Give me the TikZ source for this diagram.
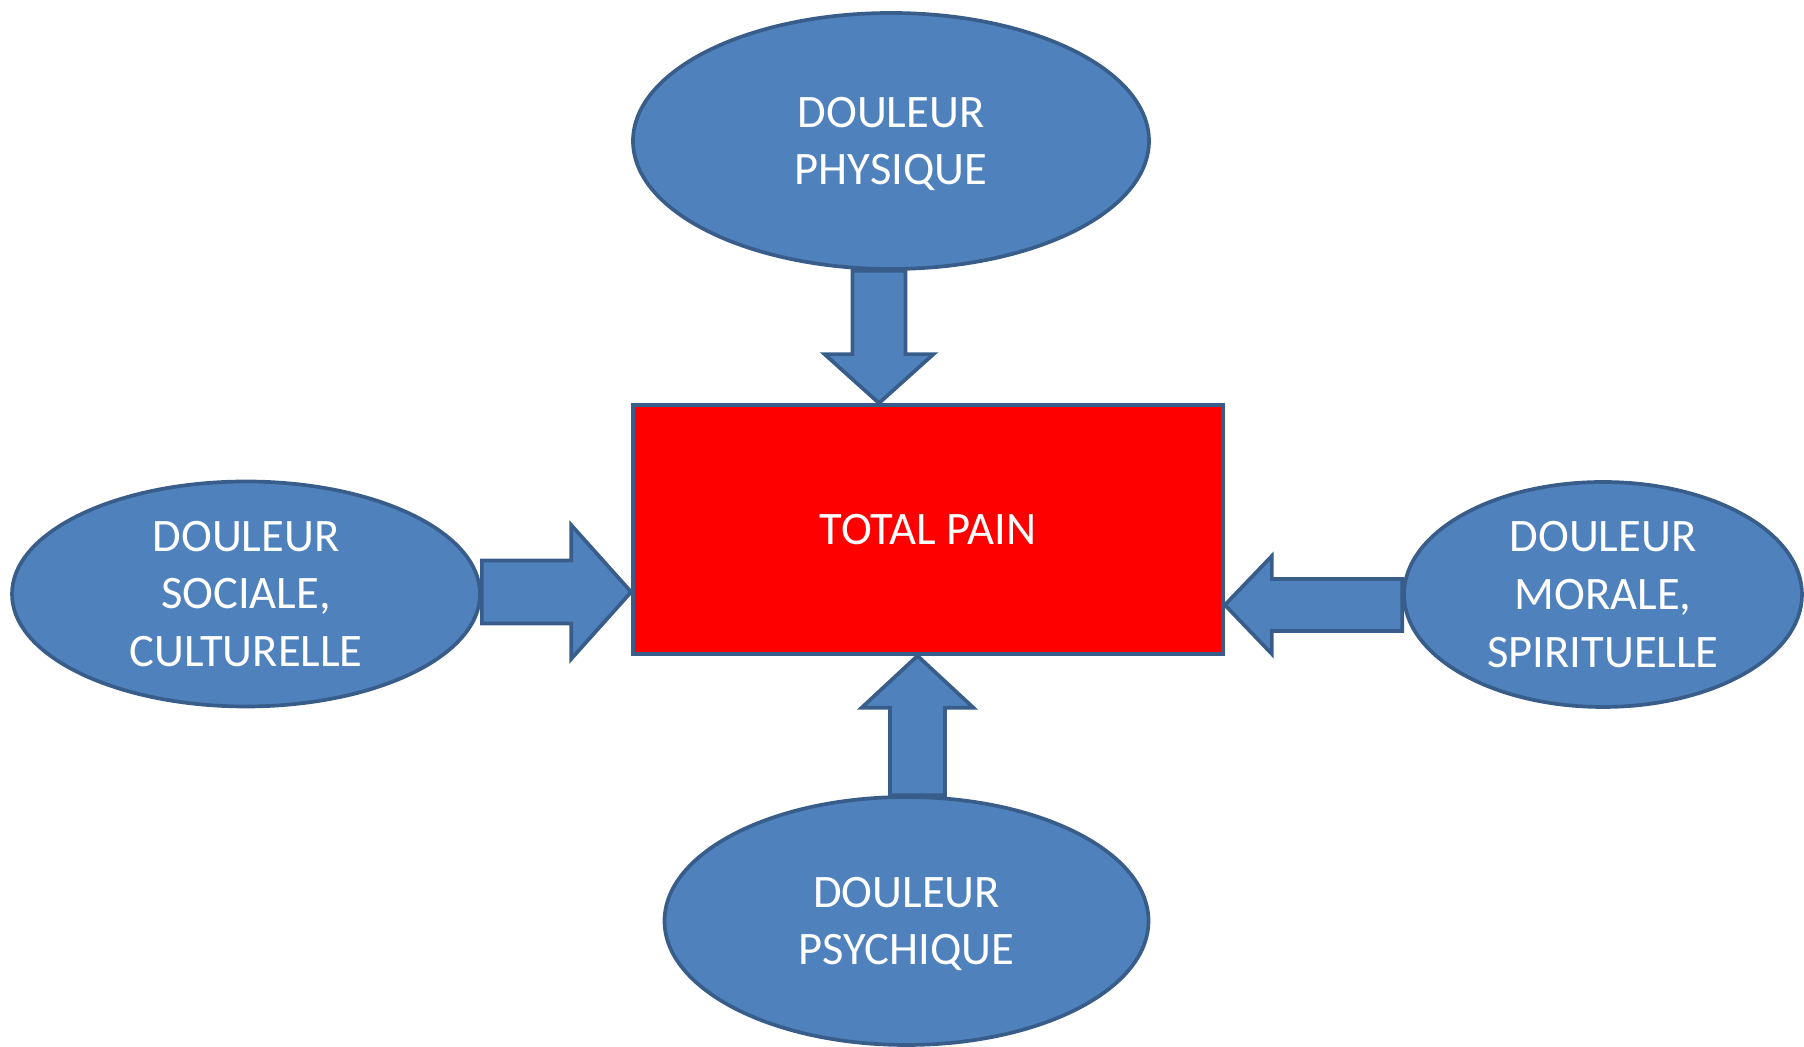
\documentclass[tikz,border=0pt]{standalone}
\usepackage{fontspec}
\setmainfont{Carlito}
\usetikzlibrary{shapes.geometric,calc}
\definecolor{officeblue}{HTML}{4F81BD}
\definecolor{officeline}{HTML}{385D8A}

\begin{document}
\begin{tikzpicture}[
  douleur/.style={ellipse, fill=officeblue, draw=officeline, line width=2.1pt,
    inner sep=0pt, text=white, align=center,
    font=\fontsize{26.5}{32.8}\selectfont},
  blockarrow/.style={fill=officeblue, draw=officeline, line width=2.1pt, line join=miter}
]
\useasboundingbox (0,0) rectangle (36.08,20.94);

% Central box
\node[draw=officeline, fill=red, line width=2.1pt, minimum width=11.8cm,
  minimum height=4.98cm, text=white, font=\fontsize{26.5}{32.8}\selectfont]
  (pain) at (18.56,10.35) {TOTAL PAIN};

% The four kinds of pain
\node[douleur, text depth=0pt, minimum width=10.32cm, minimum height=5.12cm] (physique) at (17.82,18.12) {DOULEUR\\PHYSIQUE};
\node[douleur, minimum width=9.36cm, minimum height=4.5cm] (sociale) at (4.92,9.06) {DOULEUR\\SOCIALE,\\CULTURELLE};
\node[douleur, minimum width=7.96cm, minimum height=4.5cm] (morale) at (32.06,9.05) {DOULEUR\\MORALE,\\SPIRITUELLE};
\node[douleur, text depth=0pt, minimum width=9.68cm, minimum height=4.96cm] (psychique) at (18.13,2.52) {DOULEUR\\PSYCHIQUE};

% Arrow tips on the box
\coordinate (tipP) at ($(pain.north)+(-0.98,0)$);
\coordinate (tipS) at ($(pain.west)+(0,-1.25)$);
\coordinate (tipM) at ($(pain.east)+(0,-1.51)$);
\coordinate (tipY) at ($(pain.south)+(-0.21,0)$);

% Block arrows from the ellipses to the box
% physique -> pain
\draw[blockarrow] (tipP) -- ($(tipP)+(1.09,0.98)$) -- ($(tipP)+(0.53,0.98)$)
  -- ($(tipP |- physique.south)+(0.53,0)$) -- ($(tipP |- physique.south)+(-0.53,0)$)
  -- ($(tipP)+(-0.53,0.98)$) -- ($(tipP)+(-1.09,0.98)$) -- cycle;

% sociale -> pain
\draw[blockarrow] (tipS) -- ($(tipS)+(-1.2,1.34)$) -- ($(tipS)+(-1.2,0.63)$)
  -- ($(tipS -| sociale.east)+(0,0.63)$) -- ($(tipS -| sociale.east)+(0,-0.63)$)
  -- ($(tipS)+(-1.2,-0.63)$) -- ($(tipS)+(-1.2,-1.34)$) -- cycle;

% morale -> pain
\draw[blockarrow] (tipM) -- ($(tipM)+(0.94,0.98)$) -- ($(tipM)+(0.94,0.52)$)
  -- ($(tipM -| morale.west)+(0,0.52)$) -- ($(tipM -| morale.west)+(0,-0.52)$)
  -- ($(tipM)+(0.94,-0.52)$) -- ($(tipM)+(0.94,-0.98)$) -- cycle;

% psychique -> pain
\draw[blockarrow] (tipY) -- ($(tipY)+(1.12,-1.04)$) -- ($(tipY)+(0.55,-1.04)$)
  -- ($(tipY |- psychique.north)+(0.55,0)$) -- ($(tipY |- psychique.north)+(-0.55,0)$)
  -- ($(tipY)+(-0.55,-1.04)$) -- ($(tipY)+(-1.12,-1.04)$) -- cycle;

\end{tikzpicture}
\end{document}
